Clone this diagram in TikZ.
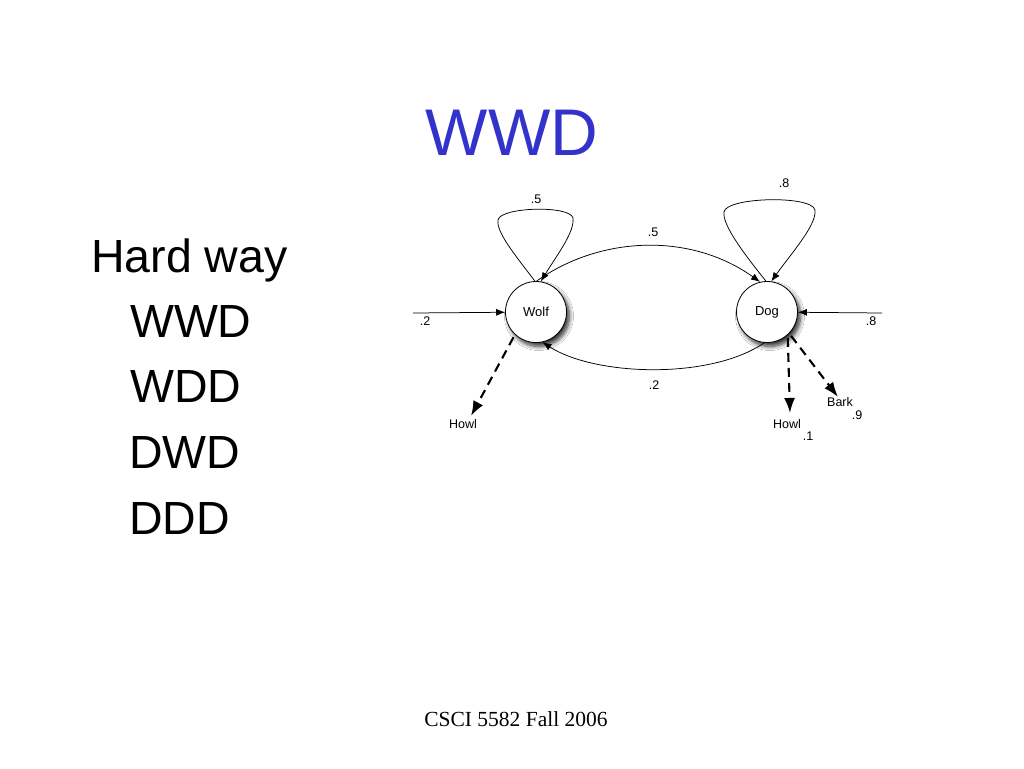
\documentclass[tikz,border=0pt]{standalone}
\usepackage{fontspec}
\setmainfont{Liberation Sans}
\newfontfamily\footserif{Liberation Serif}
\usetikzlibrary{arrows.meta,shadows.blur}
\definecolor{titleblue}{RGB}{51,51,204}
\begin{document}
\begin{tikzpicture}[x=1pt,y=-1pt,
  state/.style={circle,draw,line width=0.8pt,fill=white,minimum size=61pt,inner sep=0pt,
    font=\fontsize{13}{15}\selectfont,
    blur shadow={shadow xshift=3pt,shadow yshift=-4pt,shadow opacity=80,shadow blur radius=4pt,shadow blur steps=8}},
  lbl/.style={inner sep=0pt,font=\fontsize{12.5}{14}\selectfont},
  listtxt/.style={anchor=base west,inner sep=0pt,font=\fontsize{46.5}{52}\selectfont},
  arr/.style={-{Latex[length=9pt,width=7pt]},line width=0.75pt},
  darr/.style={-{Latex[length=15pt,width=11pt]},line width=2.1pt,dash pattern=on 9pt off 6pt}]
\fill[white] (0,0) rectangle (1024,768);
\useasboundingbox (0,0) rectangle (1024,768);

% title
\node[anchor=base,inner sep=0pt,text=titleblue,font=\fontsize{66}{75}\selectfont] (title) at (512,155) {WWD};

% list
\node[listtxt] (hard) at (91,272) {Hard way};
\node[listtxt] (l1) at (130,337) {WWD};
\node[listtxt] (l2) at (130,402.5) {WDD};
\node[listtxt] (l3) at (129,468) {DWD};
\node[listtxt] (l4) at (129,534) {DDD};

% footer
\node[anchor=base,inner sep=0pt,font=\footserif\fontsize{21.5}{24}\selectfont] (foot) at (516,726) {CSCI 5582 Fall 2006};

% states
\node[state] (wolf) at (536,312) {Wolf};
\node[state] (dog) at (767,312) {Dog};

% free ends
\coordinate (inW) at (413,313);
\coordinate (inD) at (882,313);
\coordinate (howlW) at (471,416);
\coordinate (howlD) at (790,413);
\coordinate (barkD) at (838,397);

% self loops
\draw[arr] (wolf.92) .. controls (515,255) and (496,232) .. (498,220)
  .. controls (500,207) and (570,205) .. (573,218)
  .. controls (575,232) and (555,258) .. (wolf.81);
\draw[arr] (dog.92) .. controls (745,255) and (722,225) .. (724,212)
  .. controls (726,197) and (812,195) .. (815,210)
  .. controls (817,225) and (790,255) .. (dog.82);
\node[lbl] (l55) at (536,199) {.5};
\node[lbl] (l88) at (784,183) {.8};

% transitions
\draw[arr] (wolf.89) .. controls (600,236) and (690,232) .. (dog.103);
\node[lbl] (lwd) at (653,232) {.5};
\draw[arr] (dog.-95) .. controls (710,380) and (595,376) .. (wolf.-78);
\node[lbl] (ldw) at (654,385) {.2};

% initial
\draw[arr] (inW) -- (wolf);
\node[lbl] (liw) at (425,321) {.2};
\draw[arr] (inD) -- (dog);
\node[lbl] (lid) at (871,321) {.8};

% emissions
\draw[darr,shorten <=3pt] (wolf.-133) -- (howlW);
\node[lbl] (tHowlW) at (463,424) {Howl};
\draw[darr,shorten <=3pt] (dog.-48) -- (howlD);
\node[lbl] (tHowlD) at (787,424) {Howl};
\node[lbl] (p1) at (808,436) {.1};
\draw[darr,shorten <=3pt] (dog.-44) -- (barkD);
\node[lbl] (tBark) at (840,402) {Bark};
\node[lbl] (p9) at (857,415) {.9};
\end{tikzpicture}
\end{document}
